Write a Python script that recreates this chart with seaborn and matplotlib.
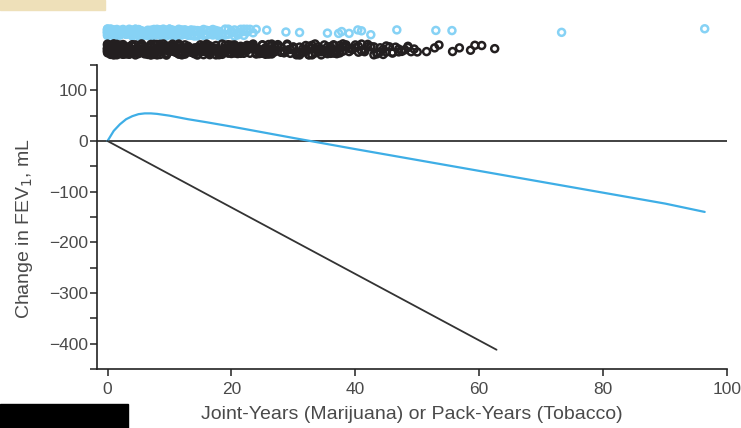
import numpy as np
import pandas as pd
import matplotlib
matplotlib.use("Agg")
import matplotlib.pyplot as plt
from matplotlib.patches import Rectangle
from matplotlib.ticker import MultipleLocator
import seaborn as sns

# ---- data ----
# fitted curves
mj_x = [0, 1, 2, 3, 4, 5, 6, 7, 8, 10, 13, 16, 20, 30, 40, 50, 60, 70, 80, 90, 96.4]
mj_y = [0, 20, 33, 43, 49, 53, 54.5, 54.5, 53.5, 50, 43, 37, 28.5, 6, -16, -37.5, -59, -80.5, -102, -123.5, -140]
tob_x = [0, 62.8]
tob_y = [0, -412]

# individual exposures (rug at top): exposure value and number of participants
marijuana_years = [
    0, 0.5, 1, 1.5, 2, 2.5, 3, 3.5, 4, 4.5,
    5, 5.5, 6, 6.5, 7, 7.5, 8, 8.5, 9, 9.5,
    10, 10.5, 11, 11.5, 12, 12.5, 13, 13.5, 14, 14.5,
    15, 15.5, 16, 16.5, 17, 17.5, 18, 18.5, 19, 19.5,
    20, 20.5, 21, 21.5, 22, 22.5, 23, 23.5, 24,
    25.7, 28.8, 31, 35.5, 37.3, 37.8, 39, 40.4, 41, 42.5, 46.7, 53, 55.6, 73.3, 96.4,
]
marijuana_count = [
    12, 10, 9, 8, 8, 7, 7, 6, 6, 6,
    6, 5, 5, 5, 5, 5, 5, 4, 4, 4,
    4, 4, 4, 4, 4, 3, 3, 3, 3, 3,
    3, 3, 3, 3, 3, 3, 3, 2, 2, 2,
    2, 2, 2, 2, 2, 2, 1, 1, 1,
    1, 1, 1, 1, 1, 1, 1, 1, 1, 1, 1, 1, 1, 1, 1,
]
tobacco_years = [
    0, 0.5, 1, 1.5, 2, 2.5, 3, 3.5, 4, 4.5,
    5, 5.5, 6, 6.5, 7, 7.5, 8, 8.5, 9, 9.5,
    10, 10.5, 11, 11.5, 12, 12.5, 13, 13.5, 14, 14.5,
    15, 15.5, 16, 16.5, 17, 17.5, 18, 18.5, 19, 19.5,
    20, 20.5, 21, 21.5, 22, 22.5, 23, 23.5, 24, 24.5,
    25, 25.5, 26, 26.5, 27, 27.5, 28, 28.5, 29, 29.5,
    30, 30.5, 31, 31.5, 32, 32.5, 33, 33.5, 34, 34.5,
    35, 35.5, 36, 36.5, 37, 37.5, 38, 38.5, 39, 39.5,
    40, 40.5, 41, 41.5, 42, 42.5, 43, 43.5, 44, 44.5,
    45, 45.5, 46, 46.5, 47, 47.5, 48, 48.5, 49, 49.5,
    50, 51.5, 52.8, 53.5, 55.7, 56.8, 58.6, 59.3, 60.4, 62.5,
]
tobacco_count = [
    12, 10, 9, 9, 8, 8, 8, 7, 7, 7,
    7, 7, 6, 6, 6, 6, 6, 6, 5, 5,
    5, 5, 5, 5, 5, 5, 5, 5, 5, 5,
    5, 5, 5, 5, 4, 4, 4, 4, 4, 4,
    4, 4, 4, 4, 4, 4, 4, 4, 4, 4,
    4, 4, 4, 4, 4, 3, 3, 3, 3, 3,
    3, 3, 3, 3, 3, 3, 3, 3, 3, 3,
    3, 3, 3, 3, 3, 3, 3, 3, 2, 2,
    2, 2, 2, 2, 2, 2, 2, 2, 2, 2,
    2, 1, 2, 1, 2, 1, 1, 2, 1, 1,
    1, 1, 1, 1, 1, 1, 1, 1, 1, 1,
]

x_ticks = [0, 20, 40, 60, 80, 100]
y_ticks = [100, 0, -100, -200, -300, -400]

blue_line = "#3eaee6"
blue_dot = "#86d2f5"
black = "#231f20"
txt = "#4a4a4a"

# ---- figure ----
sns.set_theme(style="white")
plt.rcParams["font.family"] = ["Liberation Sans", "DejaVu Sans"]

W, H = 741, 428
fig = plt.figure(figsize=(W / 100, H / 100), dpi=100)

def px_axes(l, t, r, b):
    return fig.add_axes([l / W, 1 - b / H, (r - l) / W, (b - t) / H])

ax = px_axes(97, 65, 727, 369)
ax.set_xlim(-1.7, 100)
ax.set_ylim(-450, 150)

ax.axhline(0, color="#333333", lw=1.3, zorder=1)
sns.lineplot(x=mj_x, y=mj_y, ax=ax, color=blue_line, lw=1.6, zorder=3)
sns.lineplot(x=tob_x, y=tob_y, ax=ax, color="#333333", lw=1.3, zorder=3)

ax.set_xticks(x_ticks)
ax.set_yticks(y_ticks)
ax.yaxis.set_minor_locator(MultipleLocator(50))
ax.set_xticklabels([str(v) for v in x_ticks])
ax.set_yticklabels([str(v).replace("-", "\u2212") for v in y_ticks])
for s in ["top", "right"]:
    ax.spines[s].set_visible(False)
for s in ["left", "bottom"]:
    ax.spines[s].set_color("#222222")
    ax.spines[s].set_linewidth(1.2)
ax.tick_params(axis="both", which="both", direction="out", length=5, width=1.1,
               color="#222222", labelsize=12.5, labelcolor=txt)
ax.tick_params(axis="y", which="both", left=True, pad=1.5)
ax.tick_params(axis="x", which="major", bottom=True, pad=4)
ax.set_xlabel("Joint-Years (Marijuana) or Pack-Years (Tobacco)", fontsize=14, color=txt, labelpad=7)
ax.set_ylabel("Change in FEV$_1$, mL", fontsize=14, color=txt)
ax.yaxis.set_label_coords((35 - 97) / 630, (369 - 229) / 304)
ax.grid(False)

# ---- rug of exposures above the plot ----
mj_df = pd.DataFrame({"exposure": np.repeat(marijuana_years, marijuana_count), "group": "Marijuana"})
tb_df = pd.DataFrame({"exposure": np.repeat(tobacco_years, tobacco_count), "group": "Tobacco"})
axr = px_axes(97, 21, 727, 63)
np.random.seed(3)
for df, col, jit in [(mj_df, blue_dot, 0.22), (tb_df, black, 0.33)]:
    n_before = len(axr.collections)
    sns.stripplot(data=df, x="exposure", y="group", order=["Marijuana", "Tobacco"],
                  color=col, jitter=jit, size=5.0, marker="o", linewidth=1.8,
                  ax=axr, legend=False)
    for c in axr.collections[n_before:]:
        c.set_facecolor("none")
        c.set_edgecolor(col)
axr.set_xlim(-1.7, 100)
axr.set_ylim(1.794, -0.676)
axr.axis("off")

# ---- decorative scan artifacts ----
fig.patches.append(Rectangle((0, 1 - 10 / H), 105 / W, 10 / H, transform=fig.transFigure,
                             color="#eee0b9", zorder=0))
fig.patches.append(Rectangle((0, 0), 128 / W, 24 / H, transform=fig.transFigure,
                             color="#000000", zorder=0))

fig.savefig("out.png", dpi=100)
